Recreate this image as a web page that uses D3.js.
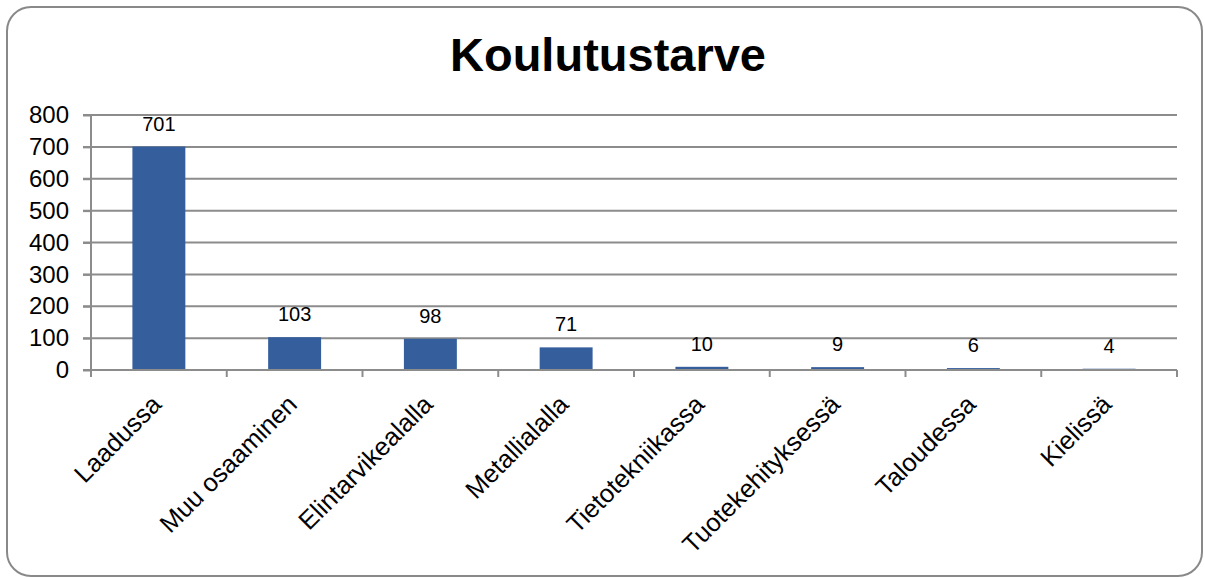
<!DOCTYPE html>
<html>
<head>
<meta charset="utf-8">
<script src="https://cdn.jsdelivr.net/npm/d3@7"></script>
<style>
  body { margin: 0; background: #fff; }
  svg { display: block; font-family: Arial, "Liberation Sans", sans-serif; }
</style>
</head>
<body>
<script>
// chart data
const categories = ["Laadussa", "Muu osaaminen", "Elintarvikealalla", "Metallialalla",
                    "Tietotekniikassa", "Tuotekehityksessä", "Taloudessa", "Kielissä"];
const values = [701, 103, 98, 71, 10, 9, 6, 4];
const yTicks = [0, 100, 200, 300, 400, 500, 600, 700, 800];
const title = "Koulutustarve";

const width = 1205, height = 579;
const plot = { left: 91, right: 1177, top: 115, bottom: 370 };

const svg = d3.select("body").append("svg")
  .attr("width", width)
  .attr("height", height);

// outer frame
svg.append("rect")
  .attr("x", 7).attr("y", 7)
  .attr("width", 1195).attr("height", 569)
  .attr("rx", 24).attr("ry", 24)
  .attr("fill", "#fff")
  .attr("stroke", "#898989")
  .attr("stroke-width", 2);

svg.append("text")
  .attr("x", 608).attr("y", 71)
  .attr("text-anchor", "middle")
  .attr("font-size", 47)
  .attr("font-weight", "bold")
  .attr("fill", "#000")
  .text(title);

const x = d3.scaleBand()
  .domain(categories)
  .range([plot.left, plot.right])
  .paddingInner(0.61)
  .paddingOuter(0.305);

const y = d3.scaleLinear()
  .domain([0, 800])
  .range([plot.bottom, plot.top]);

// gridlines
svg.append("g")
  .selectAll("line")
  .data(yTicks.filter(d => d > 0))
  .enter().append("line")
  .attr("x1", plot.left - 8).attr("x2", plot.right)
  .attr("y1", d => y(d)).attr("y2", d => y(d))
  .attr("stroke", "#8c8c8c")
  .attr("stroke-width", 2);

// bars
svg.append("g")
  .selectAll("rect")
  .data(values)
  .enter().append("rect")
  .attr("x", (d, i) => x(categories[i]))
  .attr("y", d => y(d))
  .attr("width", x.bandwidth())
  .attr("height", d => plot.bottom - y(d))
  .attr("fill", "#355e9c");

// value labels
svg.append("g")
  .selectAll("text")
  .data(values)
  .enter().append("text")
  .attr("x", (d, i) => x(categories[i]) + x.bandwidth() / 2)
  .attr("y", d => y(d) - 16)
  .attr("text-anchor", "middle")
  .attr("font-size", 20)
  .attr("fill", "#000")
  .text(d => d);

// y axis
const yAxis = svg.append("g")
  .attr("transform", `translate(${plot.left},0)`)
  .call(d3.axisLeft(y).tickValues(yTicks).tickSize(8).tickPadding(14));
yAxis.select(".domain").remove();
yAxis.selectAll("line").attr("stroke", "#8c8c8c").attr("stroke-width", 2);
yAxis.selectAll("text")
  .attr("font-size", 24)
  .attr("font-family", "Arial, 'Liberation Sans', sans-serif")
  .attr("fill", "#000");

svg.append("line")
  .attr("x1", plot.left).attr("x2", plot.left)
  .attr("y1", plot.top).attr("y2", plot.bottom + 7)
  .attr("stroke", "#8c8c8c").attr("stroke-width", 2);

// x axis line + boundary ticks
svg.append("line")
  .attr("x1", plot.left - 8).attr("x2", plot.right)
  .attr("y1", plot.bottom).attr("y2", plot.bottom)
  .attr("stroke", "#8c8c8c").attr("stroke-width", 2);

const step = x.step();
svg.append("g")
  .selectAll("line")
  .data(d3.range(categories.length + 1))
  .enter().append("line")
  .attr("x1", i => plot.left + i * step).attr("x2", i => plot.left + i * step)
  .attr("y1", plot.bottom).attr("y2", plot.bottom + 7)
  .attr("stroke", "#8c8c8c").attr("stroke-width", 2);

// rotated category labels
svg.append("g")
  .selectAll("text")
  .data(categories)
  .enter().append("text")
  .attr("transform", d => `translate(${x(d) + x.bandwidth() / 2 + 4},${plot.bottom + 36}) rotate(-45)`)
  .attr("text-anchor", "end")
  .attr("font-size", 25.5)
  .attr("fill", "#000")
  .text(d => d);
</script>
</body>
</html>
